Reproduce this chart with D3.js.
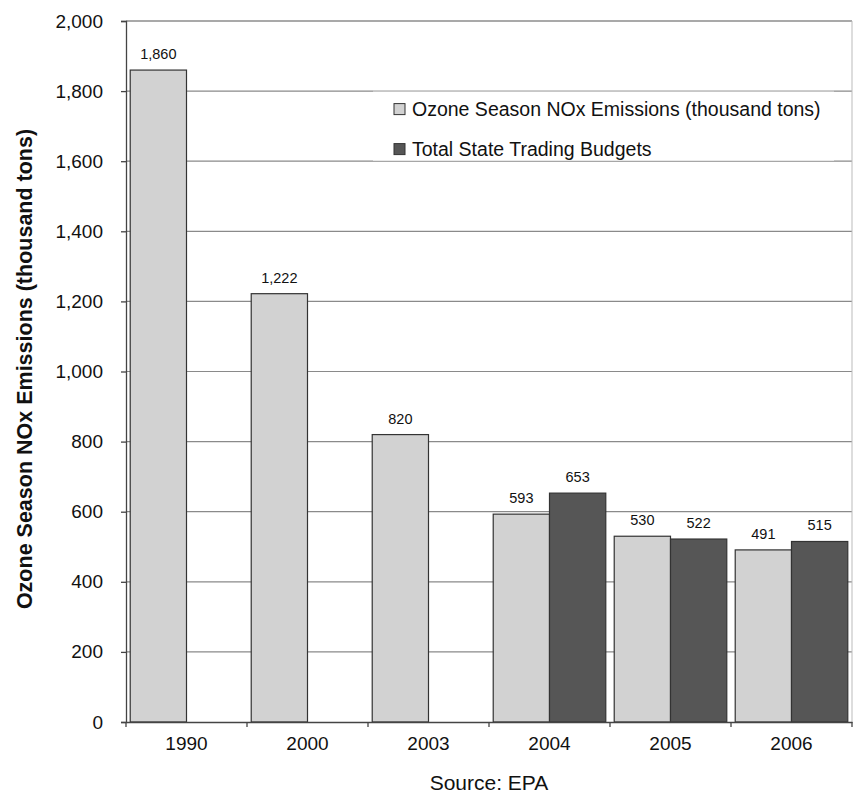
<!DOCTYPE html>
<html>
<head>
<meta charset="utf-8">
<script src="https://cdn.jsdelivr.net/npm/d3@7/dist/d3.min.js"></script>
<style>
  body { margin: 0; background: #fff; }
  text { font-family: "Liberation Sans", Arial, sans-serif; fill: #111; }
</style>
</head>
<body>
<div id="chart"></div>
<script>
const years      = ["1990", "2000", "2003", "2004", "2005", "2006"];
const emissions  = [1860, 1222, 820, 593, 530, 491];
const budgets    = [null, null, null, 653, 522, 515];
const seriesNames = ["Ozone Season NOx Emissions (thousand tons)", "Total State Trading Budgets"];
const yTicks     = [0, 200, 400, 600, 800, 1000, 1200, 1400, 1600, 1800, 2000];

const WIDTH  = 859;
const HEIGHT = 793;
const MARGIN = { top: 21, right: 7, bottom: 71, left: 126 };
const INNER_WIDTH  = WIDTH - MARGIN.left - MARGIN.right;
const INNER_HEIGHT = HEIGHT - MARGIN.top - MARGIN.bottom;
const COLORS = ["#d2d2d2", "#565656"];
const fmt = d3.format(",");

const svg = d3.select("#chart").append("svg")
    .attr("width", WIDTH)
    .attr("height", HEIGHT);

const chart = svg.append("g")
    .attr("transform", `translate(${MARGIN.left},${MARGIN.top})`);

const x  = d3.scaleBand().domain(years).range([0, INNER_WIDTH]).paddingInner(0).paddingOuter(0);
const x1 = d3.scaleBand().domain([0, 1]).range([0, x.bandwidth()]).paddingOuter(0.075).paddingInner(0);
const y  = d3.scaleLinear().domain([0, 2000]).range([INNER_HEIGHT, 0]);

// gridlines
chart.selectAll(".grid")
    .data(yTicks.filter(d => d > 0))
    .join("line")
    .attr("class", "grid")
    .attr("x1", 0).attr("x2", INNER_WIDTH)
    .attr("y1", d => y(d)).attr("y2", d => y(d))
    .attr("stroke", d => d === 2000 ? "#555" : "#8a8a8a")
    .attr("stroke-width", 1.2);

// right border of plot
chart.append("line")
    .attr("x1", INNER_WIDTH).attr("x2", INNER_WIDTH)
    .attr("y1", 0).attr("y2", INNER_HEIGHT)
    .attr("stroke", "#bbb");

// legend box (sits between the 1800 and 1600 gridlines)
const legend = chart.append("g");
const lx0 = 373 - MARGIN.left, lx1 = 834 - MARGIN.left;
legend.append("rect")
    .attr("x", lx0)
    .attr("y", y(1800) - 0.6)
    .attr("width", lx1 - lx0)
    .attr("height", y(1600) - y(1800))
    .attr("fill", "#fff");
legend.append("line")
    .attr("x1", lx0).attr("x2", lx1)
    .attr("y1", y(1800)).attr("y2", y(1800))
    .attr("stroke", "#b5b5b5").attr("stroke-width", 1.2);

seriesNames.forEach((name, i) => {
    const cy = y(1800) + 18 + i * 40;
    legend.append("rect")
        .attr("x", 394 - MARGIN.left)
        .attr("y", cy - 5.5)
        .attr("width", 11)
        .attr("height", 11)
        .attr("fill", COLORS[i])
        .attr("stroke", "#333")
        .attr("stroke-width", 1);
    legend.append("text")
        .attr("x", 412 - MARGIN.left)
        .attr("y", cy)
        .attr("dy", "0.35em")
        .attr("font-size", 19.5)
        .text(name);
});

// bars
const groups = chart.selectAll(".year")
    .data(years)
    .join("g")
    .attr("class", "year")
    .attr("transform", d => `translate(${x(d)},0)`);

groups.each(function(d, i) {
    const vals = [emissions[i], budgets[i]];
    const g = d3.select(this);
    vals.forEach((v, s) => {
        if (v == null) return;
        g.append("rect")
            .attr("x", x1(s))
            .attr("y", y(v))
            .attr("width", x1.bandwidth())
            .attr("height", y(0) - y(v))
            .attr("fill", COLORS[s])
            .attr("stroke", "#333")
            .attr("stroke-width", 1.2);
        g.append("text")
            .attr("x", x1(s) + x1.bandwidth() / 2)
            .attr("y", y(v) - 11)
            .attr("text-anchor", "middle")
            .attr("font-size", 14.5)
            .text(fmt(v));
    });
});

// y axis
const yAxis = chart.append("g")
    .call(d3.axisLeft(y).tickValues(yTicks).tickFormat(fmt).tickSize(5).tickPadding(18));
yAxis.select(".domain").attr("stroke", "#444").attr("stroke-width", 1.3);
yAxis.selectAll(".tick line").attr("stroke", "#444").attr("stroke-width", 1.3);
yAxis.selectAll("text").attr("font-size", 19).attr("fill", "#111");

// x axis, ticks at band boundaries
const xAxis = chart.append("g")
    .attr("transform", `translate(0,${INNER_HEIGHT})`)
    .call(d3.axisBottom(x).tickSize(0).tickPadding(15));
xAxis.select(".domain").attr("stroke", "#444").attr("stroke-width", 1.3);
xAxis.selectAll("text").attr("font-size", 19).attr("fill", "#111");
xAxis.selectAll(".sep")
    .data(d3.range(years.length + 1))
    .join("line")
    .attr("class", "sep")
    .attr("x1", i => i * x.step()).attr("x2", i => i * x.step())
    .attr("y1", 0).attr("y2", 5)
    .attr("stroke", "#444").attr("stroke-width", 1.3);

// axis title
svg.append("text")
    .attr("transform", "translate(24,369) rotate(-90)")
    .attr("text-anchor", "middle")
    .attr("dy", "0.35em")
    .attr("font-size", 21.5)
    .attr("font-weight", "bold")
    .text("Ozone Season NOx Emissions (thousand tons)");

// source note
svg.append("text")
    .attr("x", MARGIN.left + INNER_WIDTH / 2)
    .attr("y", 783)
    .attr("dy", "0.35em")
    .attr("text-anchor", "middle")
    .attr("font-size", 21)
    .text("Source: EPA");
</script>
</body>
</html>
